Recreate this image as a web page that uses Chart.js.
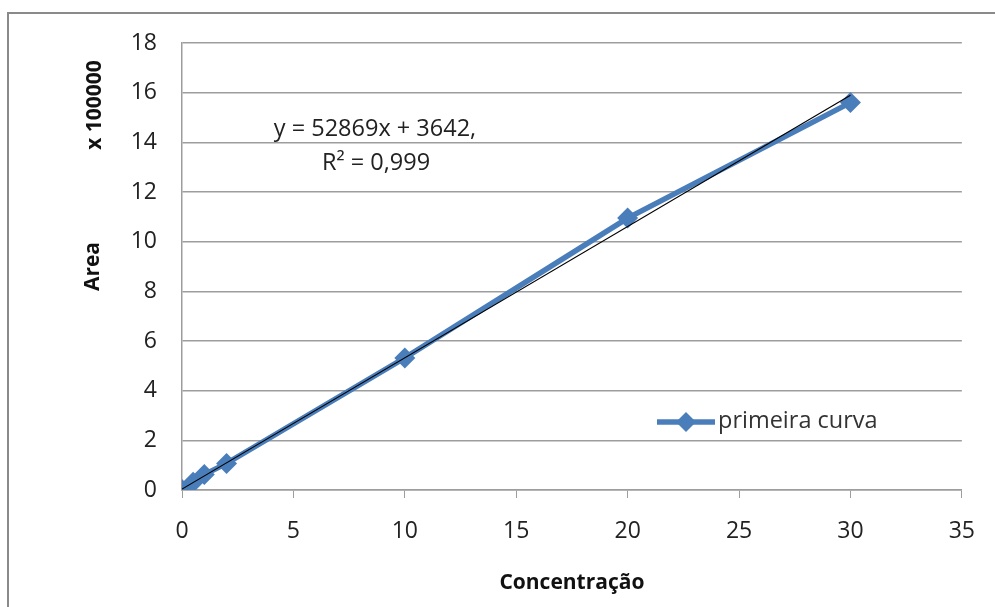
<!DOCTYPE html>
<html>
<head>
<meta charset="utf-8">
<script src="https://cdn.jsdelivr.net/npm/chart.js@4.4.1/dist/chart.umd.min.js"></script>
<style>
  html, body { margin: 0; padding: 0; background: #fff; }
  #wrap { width: 995px; height: 607px; }
</style>
</head>
<body>
<div id="wrap"><canvas id="curva"></canvas></div>
<script>
// concentration and area (x 100000)
var concentracao = [0, 0.5, 1, 2, 10, 20, 30];
var area = [0.02, 0.31, 0.62, 1.07, 5.32, 10.95, 15.6];
// linear trendline end points
var trendX = [0, 30];
var trendY = [0.036, 15.9];
var xTicks = [0, 5, 10, 15, 20, 25, 30, 35];
var yTicks = [0, 2, 4, 6, 8, 10, 12, 14, 16, 18];

var blue = '#4a7ebb';
var gridGray = '#9d9d9d';
var fontName = '"Open Sans", "Noto Sans", sans-serif';

function toPoints(xs, ys) {
  return xs.map(function (x, i) { return {x: x, y: ys[i]}; });
}

var extras = {
  id: 'extras',
  beforeDraw: function (chart) {
    var c = chart.ctx;
    c.save();
    c.strokeStyle = '#8a8a8a';
    c.lineWidth = 2;
    c.strokeRect(8, 13, 1100, 700);
    c.restore();
  },
  afterDraw: function (chart) {
    var c = chart.ctx;
    c.save();
    // unit label
    c.fillStyle = '#111';
    c.font = 'bold 21px ' + fontName;
    c.translate(95, 105);
    c.rotate(-Math.PI / 2);
    c.textAlign = 'center';
    c.textBaseline = 'middle';
    c.fillText('x 100000', 0, 0);
    c.restore();

    // trendline equation
    c.save();
    c.fillStyle = '#222';
    c.font = '23.5px ' + fontName;
    c.textAlign = 'center';
    c.textBaseline = 'middle';
    c.fillText('y = 52869x + 3642,', 375, 129);
    c.fillText('R² = 0,999', 376, 163);
    c.restore();

    // legend
    c.save();
    c.strokeStyle = blue;
    c.lineWidth = 5.5;
    c.beginPath();
    c.moveTo(657, 422);
    c.lineTo(715, 422);
    c.stroke();
    c.fillStyle = blue;
    c.beginPath();
    c.moveTo(686, 412);
    c.lineTo(696, 422);
    c.lineTo(686, 432);
    c.lineTo(676, 422);
    c.closePath();
    c.fill();
    c.fillStyle = '#333';
    c.font = '23.5px ' + fontName;
    c.textBaseline = 'middle';
    c.fillText('primeira curva', 718, 421);
    c.restore();
  }
};

var ctx = document.getElementById('curva');
var chartCurva = new Chart(ctx, {
  type: 'scatter',
  data: {
    datasets: [{
      label: 'Linear (primeira curva)',
      data: toPoints(trendX, trendY),
      showLine: true,
      borderColor: '#000',
      borderWidth: 1.2,
      pointRadius: 0,
      order: 0
    }, {
      label: 'primeira curva',
      data: toPoints(concentracao, area),
      showLine: true,
      borderColor: blue,
      backgroundColor: blue,
      borderWidth: 5.5,
      pointStyle: 'rectRot',
      pointRadius: 10.5,
      pointBorderWidth: 0,
      pointBackgroundColor: blue,
      order: 1
    }]
  },
  options: {
    responsive: true,
    maintainAspectRatio: false,
    animation: false,
    layout: {padding: {top: 43, right: 33, left: 0, bottom: 0}},
    plugins: {
      legend: {display: false},
      tooltip: {enabled: false}
    },
    scales: {
      x: {
        type: 'linear',
        min: 0,
        max: 35,
        afterBuildTicks: function (axis) {
          axis.ticks = xTicks.map(function (v) { return {value: v}; });
        },
        afterFit: function (axis) { axis.height = 117; },
        grid: {
          drawOnChartArea: false,
          drawTicks: true,
          tickLength: 8,
          color: gridGray
        },
        border: {color: gridGray, width: 1.5},
        ticks: {
          padding: 20,
          color: '#222',
          font: {family: fontName, size: 23}
        },
        title: {
          display: true,
          text: 'Concentração',
          color: '#111',
          font: {family: fontName, size: 21, weight: 'bold'},
          padding: {top: 0, bottom: 11}
        }
      },
      y: {
        type: 'linear',
        min: 0,
        max: 18,
        afterBuildTicks: function (axis) {
          axis.ticks = yTicks.map(function (v) { return {value: v}; });
        },
        afterFit: function (axis) { axis.width = 182; },
        grid: {
          drawTicks: false,
          color: gridGray,
          lineWidth: 1.5
        },
        border: {color: gridGray, width: 1.5},
        ticks: {
          padding: 25,
          color: '#222',
          font: {family: fontName, size: 23}
        },
        title: {
          display: true,
          text: 'Area',
          color: '#111',
          font: {family: fontName, size: 21, weight: 'bold'},
          padding: {top: 80, bottom: 0}
        }
      }
    }
  },
  plugins: [extras]
});
</script>
</body>
</html>
